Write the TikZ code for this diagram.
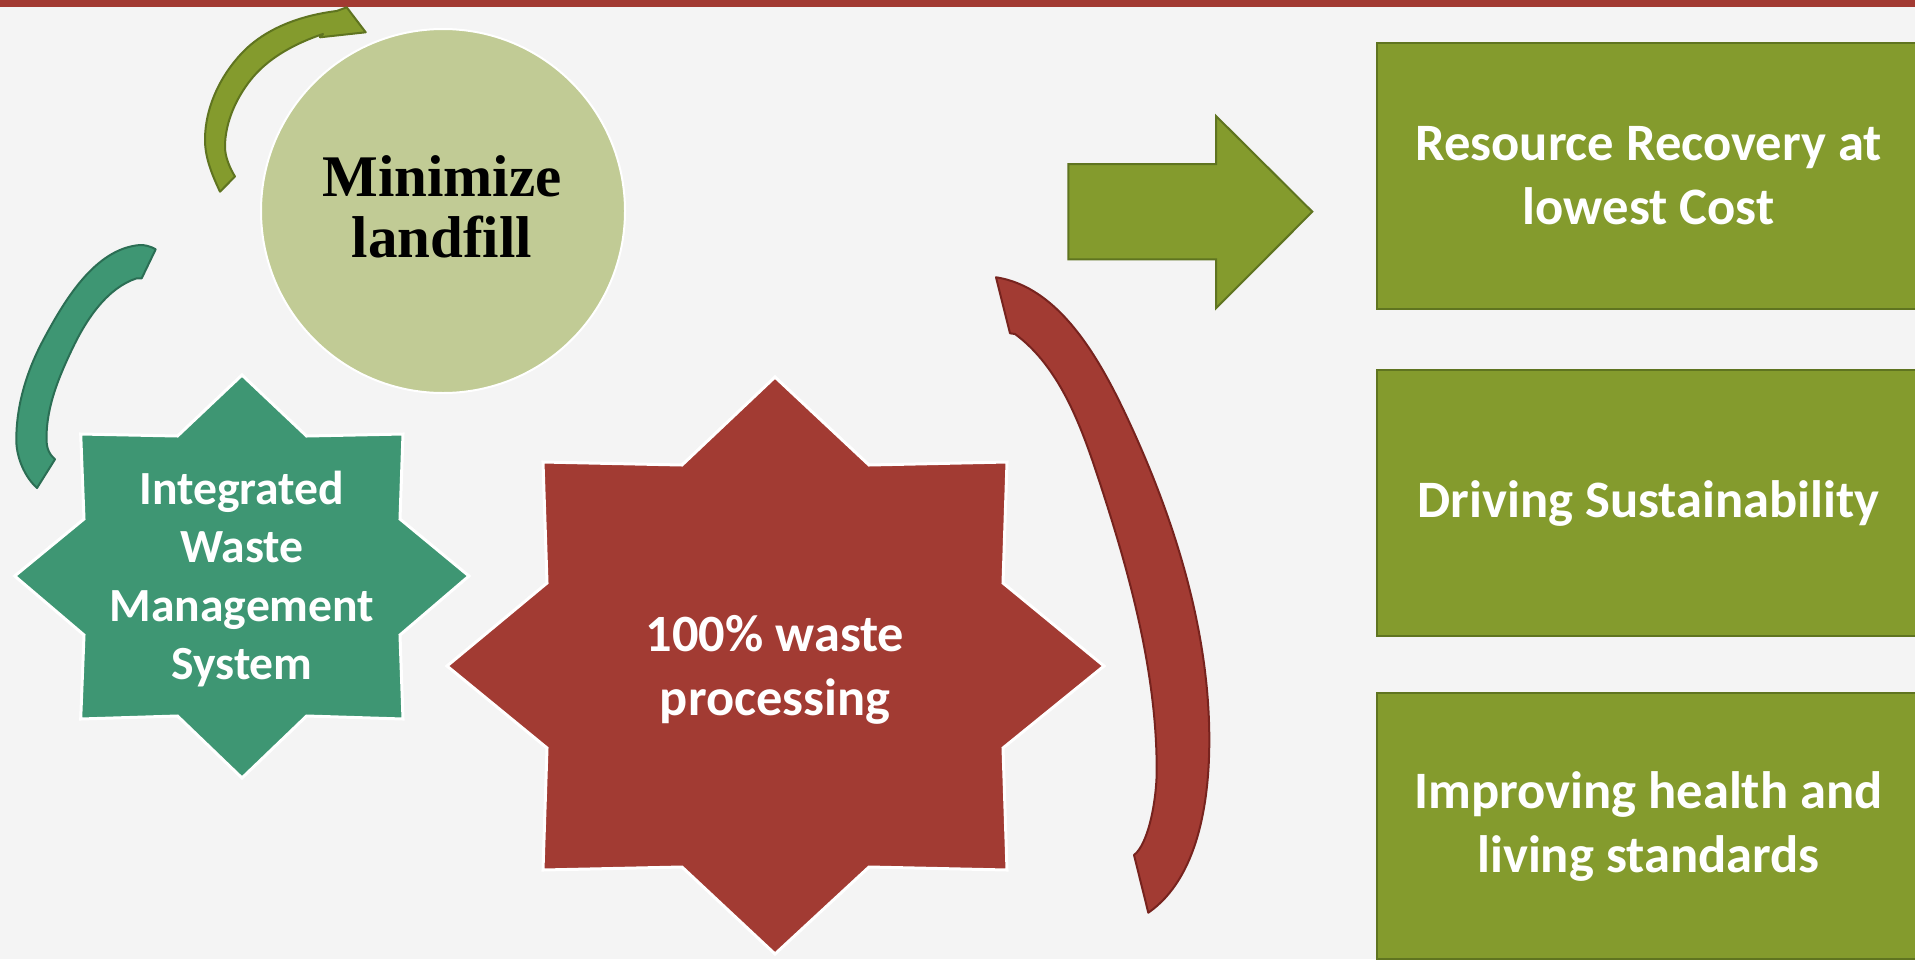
\documentclass[tikz,border=0pt]{standalone}
\usepackage{fontspec}
\setmainfont{Liberation Serif}
\newfontfamily\carlito{Carlito}
\definecolor{cBg}{HTML}{F4F4F4}
\definecolor{cBar}{HTML}{A23A32}
\definecolor{cTeal}{HTML}{3E9673}
\definecolor{cTealDark}{HTML}{2B6E54}
\definecolor{cRed}{HTML}{A23B33}
\definecolor{cRedDark}{HTML}{77231E}
\definecolor{cOlive}{HTML}{849B2D}
\definecolor{cOliveDark}{HTML}{5F7420}
\definecolor{cSage}{HTML}{C1CB95}
\tikzset{
  starshape/.style={draw=white, line width=1.5pt, line join=miter},
  arcarrow/.style={line width=1pt, line join=round},
  outbox/.style={rectangle, fill=cOlive, draw=cOliveDark, line width=1pt,
    minimum width=271.5pt, minimum height=133pt, text=white, align=center,
    font=\carlito\bfseries\fontsize{26.3}{32}\selectfont},
  startext/.style={text=white, align=center, inner sep=0pt}
}
\begin{document}
\begin{tikzpicture}[x=0.5pt,y=-0.5pt]
\useasboundingbox (0,0) rectangle (1915,959);
\fill[cBg] (0,0) rectangle (1915,959);
\fill[cBar] (0,0) rectangle (1915,7);

% circle
\node[circle, fill=cSage, draw=white, line width=1pt, minimum size=182pt, inner sep=0pt] (landc) at (443,211) {};
\node[align=center, inner sep=0pt, font=\bfseries\fontsize{29.5}{30.6}\selectfont] (landt) at (442,207) {Minimize\\landfill};

% olive curved arrow
\draw[arcarrow, fill=cOlive, draw=cOliveDark]
  (220,191.7) .. controls (212.4,175.5) and (205,158) .. (205,140)
  .. controls (205,108) and (219.8,76.6) .. (241.7,53.3)
  .. controls (265.6,27.8) and (302,15.2) .. (336.7,11)
  -- (346.7,7.3) -- (365.7,32.3) -- (320,37.3) -- (323,34)
  .. controls (297.4,42.6) and (270.8,56.2) .. (253.3,76.7)
  .. controls (237.1,95.7) and (225,121.7) .. (225,146.7)
  .. controls (225,156.7) and (229.7,168) .. (235,176.5)
  -- cycle;

% teal curved arrow
\draw[arcarrow, fill=cTeal, draw=cTealDark]
  (155.7,249.3) .. controls (150,246) and (145,245) .. (140,245)
  .. controls (95.1,248.6) and (64.5,300.3) .. (43.3,340)
  .. controls (26.8,370.9) and (16.3,405) .. (16.3,440)
  .. controls (16.3,457) and (24.4,476.6) .. (37,488)
  -- (55,459.3)
  .. controls (48,453) and (46.5,447) .. (46.5,438)
  .. controls (46.5,406) and (59.4,375.5) .. (73.3,346.7)
  .. controls (86.8,318.8) and (107.3,287.9) .. (136.7,278.3)
  -- (141.7,278.3) -- cycle;

% green star
\draw[starshape, fill=cTeal] (242,375) -- (306.6,436) -- (403,434) -- (400,519) -- (469,576) -- (400,635) -- (403,719) -- (306.6,716) -- (242,778) -- (177.5,716) -- (80.7,719) -- (84,635) -- (14.7,576) -- (84,519) -- (80.7,434) -- (177.5,436) -- cycle;
\node[startext, font=\carlito\bfseries\fontsize{23.8}{29.15}\selectfont] (iwms) at (242,579) {Integrated\\Waste\\Management\\System};

% red star
\draw[starshape, fill=cRed] (775,377) -- (869,465) -- (1007,462) -- (1003,583) -- (1104,666) -- (1003,748) -- (1007,870) -- (869,867) -- (775,954) -- (682,867) -- (543,870) -- (547,748) -- (447,666) -- (547,583) -- (543,462) -- (682,465) -- cycle;
\node[startext, font=\carlito\bfseries\fontsize{26.2}{32}\selectfont] (proc) at (775,670) {100\% waste\\processing};

% red arc
\draw[arcarrow, fill=cRed, draw=cRedDark]
  (996,277.3) .. controls (1059.3,286.8) and (1099.5,358.8) .. (1126.7,416.7)
  .. controls (1173.9,517.2) and (1209.3,629) .. (1209.3,740)
  .. controls (1209.3,801) and (1198.3,877.9) .. (1148.3,912.7)
  -- (1134,855)
  .. controls (1148.4,844.2) and (1156.7,800) .. (1156.7,770)
  .. controls (1156.7,673) and (1130.2,575.5) .. (1100,483.3)
  .. controls (1082.3,429.15) and (1060.9,367.8) .. (1015,334)
  -- (1010,333.3) -- cycle;

% block arrow
\draw[fill=cOlive, draw=cOliveDark, line width=1pt] (1068.3,164) -- (1216,164) -- (1216,116) -- (1312.3,211.7) -- (1216,308.3) -- (1216,259.3) -- (1068.3,259.3) -- cycle;

% boxes
\node[outbox] (b1) at (1648.5,176) {Resource Recovery at\\lowest Cost};
\node[outbox] (b2) at (1648.5,503) {Driving Sustainability};
\node[outbox] (b3) at (1648.5,826) {Improving health and\\living standards};
\end{tikzpicture}
\end{document}
